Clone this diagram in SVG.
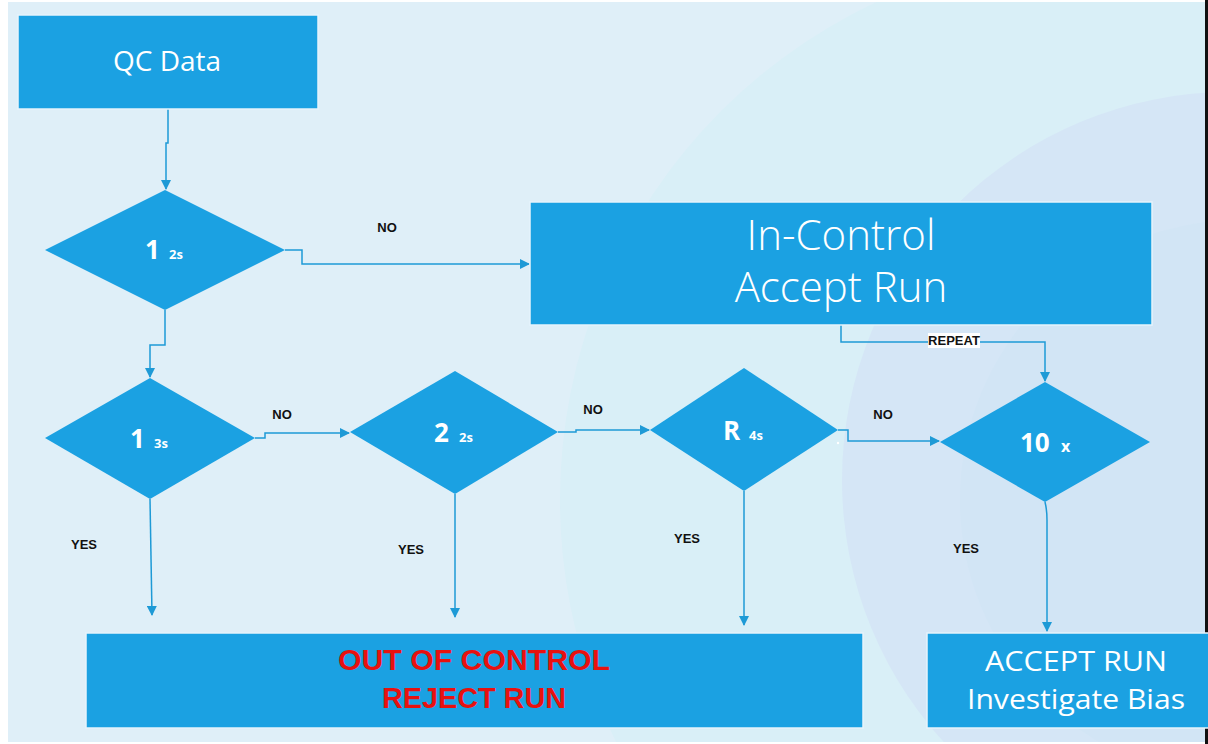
<svg xmlns="http://www.w3.org/2000/svg" width="1208" height="744" viewBox="0 0 1208 744">
  <defs>
    <marker id="ah" markerWidth="10" markerHeight="10" refX="9" refY="5" orient="auto" markerUnits="userSpaceOnUse">
      <path d="M0,0 L10,5 L0,10 Z" fill="#1e9ad6"/>
    </marker>
    <clipPath id="bgclip"><rect x="8" y="2" width="1198" height="742"/></clipPath>
  </defs>
  <style>
    .box { fill: #1ba1e2; stroke: #e6f4fb; stroke-width: 1.5; }
    .dia { fill: #1ba1e2; }
    .conn { fill: none; stroke: #1e9ad6; stroke-width: 1.5; }
    .lbl { font-family: "Liberation Sans", Arial, sans-serif; font-weight: bold; font-size: 13px; fill: #111; text-anchor: middle; }
    .big { font-family: "Open Sans", "Noto Sans", sans-serif; fill: #ffffff; text-anchor: middle; }
    .dnum { font-family: "Open Sans", "Noto Sans", sans-serif; font-weight: bold; fill: #ffffff; }
  </style>
  <rect x="0" y="0" width="1208" height="744" fill="#ffffff"/>
  <g clip-path="url(#bgclip)">
    <rect x="8" y="2" width="1198" height="742" fill="#dfeff8"/>
    <circle cx="1110" cy="500" r="550" fill="#d9eff7"/>
    <circle cx="1230" cy="480" r="388" fill="#d5e6f6"/>
    <circle cx="1240" cy="500" r="280" fill="#d2e5f5"/>
  </g>
  <rect x="8" y="742" width="1198" height="2" fill="#ffffff"/>
  <rect x="1205" y="0" width="3" height="744" fill="#111"/>

  <g id="connectors">
    <path class="conn" d="M168,109 V143 H166 V189" marker-end="url(#ah)"/>
    <path class="conn" d="M285,250 H302 V264 H529" marker-end="url(#ah)"/>
    <path class="conn" d="M165,310 V345 H150 V377" marker-end="url(#ah)"/>
    <path class="conn" d="M255,438 H265 V433 H349" marker-end="url(#ah)"/>
    <path class="conn" d="M558,432 H576 V430 H649" marker-end="url(#ah)"/>
    <path class="conn" d="M838,430 H848 V441 H939" marker-end="url(#ah)"/>
    <circle cx="838" cy="443" r="1.2" fill="#ffffff"/>
    <path class="conn" d="M841,325 V342 H1045 V381" marker-end="url(#ah)"/>
    <path class="conn" d="M150,499 L152,615" marker-end="url(#ah)"/>
    <path class="conn" d="M455,494 V617" marker-end="url(#ah)"/>
    <path class="conn" d="M744,491 V625" marker-end="url(#ah)"/>
    <path class="conn" d="M1045,502 Q1047,510 1047,520 V631" marker-end="url(#ah)"/>
    <rect x="928" y="333" width="52" height="15" fill="#ffffff"/>
    <text class="lbl" x="954" y="345">REPEAT</text>
    <text class="lbl" x="387" y="232">NO</text>
    <text class="lbl" x="282" y="419">NO</text>
    <text class="lbl" x="593" y="414">NO</text>
    <text class="lbl" x="883" y="419">NO</text>
    <text class="lbl" x="84" y="549">YES</text>
    <text class="lbl" x="411" y="554">YES</text>
    <text class="lbl" x="687" y="543">YES</text>
    <text class="lbl" x="966" y="553">YES</text>
  </g>

  <g id="qc-data">
    <rect class="box" x="18" y="15" width="300" height="94"/>
    <text class="big" x="167" y="71" font-size="28">QC Data</text>
  </g>

  <g id="rule-1-2s">
    <polygon class="dia" points="165,190 285,250 165,310 45,250"/>
    <text class="dnum" x="145" y="259" font-size="26">1</text>
    <text class="dnum" x="169" y="259" font-size="13">2s</text>
  </g>

  <g id="in-control">
    <rect class="box" x="530" y="202" width="622" height="123"/>
    <text class="big" x="841" y="250" font-size="42" font-weight="300">In-Control</text>
    <text class="big" x="841" y="302" font-size="42" font-weight="300">Accept Run</text>
  </g>

  <g id="rule-1-3s">
    <polygon class="dia" points="150,378 255,438 150,499 45,438"/>
    <text class="dnum" x="130" y="448" font-size="26">1</text>
    <text class="dnum" x="154" y="448" font-size="13">3s</text>
  </g>

  <g id="rule-2-2s">
    <polygon class="dia" points="455,371 558,432 455,494 350,432"/>
    <text class="dnum" x="434" y="442" font-size="26">2</text>
    <text class="dnum" x="459" y="442" font-size="13">2s</text>
  </g>

  <g id="rule-r-4s">
    <polygon class="dia" points="744,368 838,430 744,491 650,430"/>
    <text class="dnum" x="723" y="440" font-size="26">R</text>
    <text class="dnum" x="749" y="440" font-size="13">4s</text>
  </g>

  <g id="rule-10x">
    <polygon class="dia" points="1045,382 1150,442 1045,502 940,442"/>
    <text class="dnum" x="1020" y="452" font-size="26">10</text>
    <text class="dnum" x="1061" y="452" font-size="16">x</text>
  </g>

  <g id="out-of-control">
    <rect class="box" x="86" y="633" width="777" height="95"/>
    <text x="474" y="670" font-family="'Liberation Sans Narrow', 'Liberation Sans', Arial, sans-serif" font-weight="bold" font-size="29" fill="#e8110f" text-anchor="middle" textLength="272" lengthAdjust="spacingAndGlyphs">OUT OF CONTROL</text>
    <text x="474" y="708" font-family="'Liberation Sans Narrow', 'Liberation Sans', Arial, sans-serif" font-weight="bold" font-size="29" fill="#e8110f" text-anchor="middle" textLength="184" lengthAdjust="spacingAndGlyphs">REJECT RUN</text>
  </g>

  <g id="accept-run">
    <rect class="box" x="927" y="633" width="285" height="95"/>
    <text class="big" x="1076" y="671" font-size="28" textLength="182" lengthAdjust="spacingAndGlyphs">ACCEPT RUN</text>
    <text class="big" x="1076" y="709" font-size="28" textLength="218" lengthAdjust="spacingAndGlyphs">Investigate Bias</text>
  </g>
</svg>
